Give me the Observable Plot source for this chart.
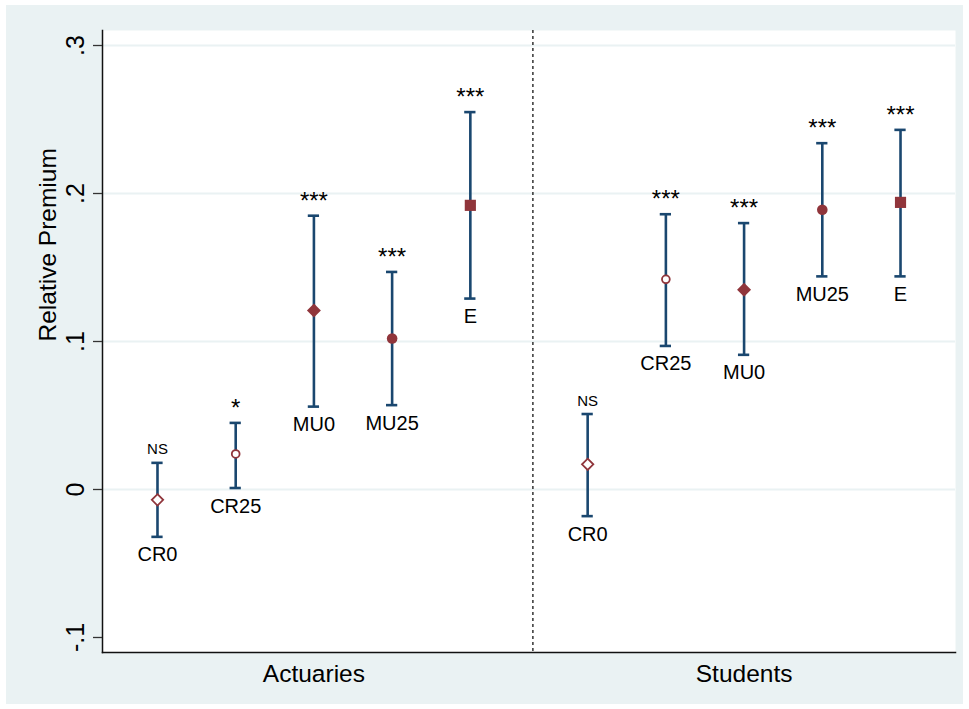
<!DOCTYPE html>
<html>
<head>
<meta charset="utf-8">
<script src="https://cdn.jsdelivr.net/npm/d3@7"></script>
<script src="https://cdn.jsdelivr.net/npm/@observablehq/plot@0.6"></script>
<style>
  html, body { margin: 0; padding: 0; background: #ffffff; }
  #chart { padding: 5px 6px; width: 957px; height: 699px; }
  #chart svg { display: block; }
</style>
</head>
<body>
<div id="chart"></div>
<script>
// ---- data ----
const groups = ["Actuaries", "Students"];
const treatments = ["CR0", "CR25", "MU0", "MU25", "E"];
const actEst = [-0.007, 0.024, 0.121, 0.102, 0.192];
const actLo  = [-0.032, 0.001, 0.056, 0.057, 0.129];
const actHi  = [ 0.018, 0.045, 0.185, 0.147, 0.255];
const actSig = ["NS", "*", "***", "***", "***"];
const stuEst = [ 0.017, 0.142, 0.135, 0.189, 0.194];
const stuLo  = [-0.018, 0.097, 0.091, 0.144, 0.144];
const stuHi  = [ 0.051, 0.186, 0.180, 0.234, 0.243];
const stuSig = ["NS", "***", "***", "***", "***"];
const yTicks = [-0.1, 0, 0.1, 0.2, 0.3];
const yTickLabels = ["-.1", "0", ".1", ".2", ".3"];
const yGrid = [0, 0.1, 0.2, 0.3];
const yLabel = "Relative Premium";

// ---- table built from the arrays ----
const groupGap = 5.5;
const est = [actEst, stuEst], lo = [actLo, stuLo], hi = [actHi, stuHi], sig = [actSig, stuSig];
const rows = [];
groups.forEach((g, gi) => treatments.forEach((t, i) => rows.push({
  group: g, treatment: t, x: gi * groupGap + i,
  est: est[gi][i], lo: lo[gi][i], hi: hi[gi][i], sig: sig[gi][i]
})));
const groupCenters = groups.map((g, gi) => gi * groupGap + (treatments.length - 1) / 2);
const separator = [(treatments.length - 1) + 0.8];

// ---- styles ----
const navy = "#1a476f", maroon = "#90353b", bg = "#eaf2f3";
const font = "'Liberation Sans', Arial, sans-serif";
const markerStyle = {
  CR0:  {symbol: "diamond2", filled: false, r: 5.1},
  CR25: {symbol: "circle",   filled: false, r: 3.9},
  MU0:  {symbol: "diamond2", filled: true,  r: 6.3},
  MU25: {symbol: "circle",   filled: true,  r: 5.3},
  E:    {symbol: "square",   filled: true,  r: 6.3}
};
const capHalf = 0.072;

const dotMarks = treatments.map(t => {
  const s = markerStyle[t];
  return Plot.dot(rows.filter(d => d.treatment === t), {
    x: "x", y: "est", symbol: s.symbol, r: s.r,
    fill: s.filled ? maroon : "white",
    stroke: s.filled ? "none" : maroon,
    strokeWidth: s.filled ? 0 : 1.8
  });
});

const chart = Plot.plot({
  width: 957,
  height: 699,
  marginLeft: 96,
  marginTop: 25,
  marginRight: 8,
  marginBottom: 52,
  style: {background: bg, fontFamily: font, color: "#000"},
  x: {domain: [-0.703, 10.203], axis: null},
  y: {domain: [-0.11014, 0.31014], axis: null},
  marks: [
    Plot.frame({fill: "white", stroke: null}),
    Plot.gridY(yGrid, {stroke: bg, strokeOpacity: 1, strokeWidth: 2}),
    Plot.ruleX(separator, {stroke: "#000", strokeWidth: 1.2, strokeDasharray: "3,3"}),
    Plot.frame({anchor: "left", stroke: "#111", strokeWidth: 1.5}),
    Plot.frame({anchor: "bottom", stroke: "#111", strokeWidth: 1.5}),
    Plot.axisY(yTicks, {
      anchor: "left", tickSize: 9, tickPadding: 10, tickRotate: -90,
      tickFormat: d => yTickLabels[yTicks.indexOf(d)],
      fontSize: 25, stroke: "#333", strokeWidth: 1.3, label: null
    }),
    Plot.axisX(groupCenters, {
      anchor: "bottom", tickSize: 0, tickPadding: 12,
      tickFormat: d => groups[groupCenters.indexOf(d)],
      fontSize: 24.5, label: null
    }),
    Plot.text([yLabel], {frameAnchor: "left", dx: -54, rotate: -90, fontSize: 24.5, fill: "#000"}),
    // confidence intervals
    Plot.ruleX(rows, {x: "x", y1: "lo", y2: "hi", stroke: navy, strokeWidth: 2.6}),
    Plot.ruleY(rows, {y: "lo", x1: d => d.x - capHalf, x2: d => d.x + capHalf, stroke: navy, strokeWidth: 2.6}),
    Plot.ruleY(rows, {y: "hi", x1: d => d.x - capHalf, x2: d => d.x + capHalf, stroke: navy, strokeWidth: 2.6}),
    ...dotMarks,
    // significance labels
    Plot.text(rows.filter(d => d.sig === "NS"), {x: "x", y: "hi", text: "sig", lineAnchor: "bottom", dy: -8.5, fontSize: 15, fill: "#000"}),
    Plot.text(rows.filter(d => d.sig !== "NS"), {x: "x", y: "hi", text: "sig", lineAnchor: "bottom", dy: -7, fontSize: 24, fill: "#000"}),
    // treatment labels
    Plot.text(rows, {x: "x", y: "lo", text: "treatment", lineAnchor: "bottom", dy: 24.5, fontSize: 20, fill: "#000"})
  ]
});
document.getElementById("chart").appendChild(chart);
</script>
</body>
</html>
